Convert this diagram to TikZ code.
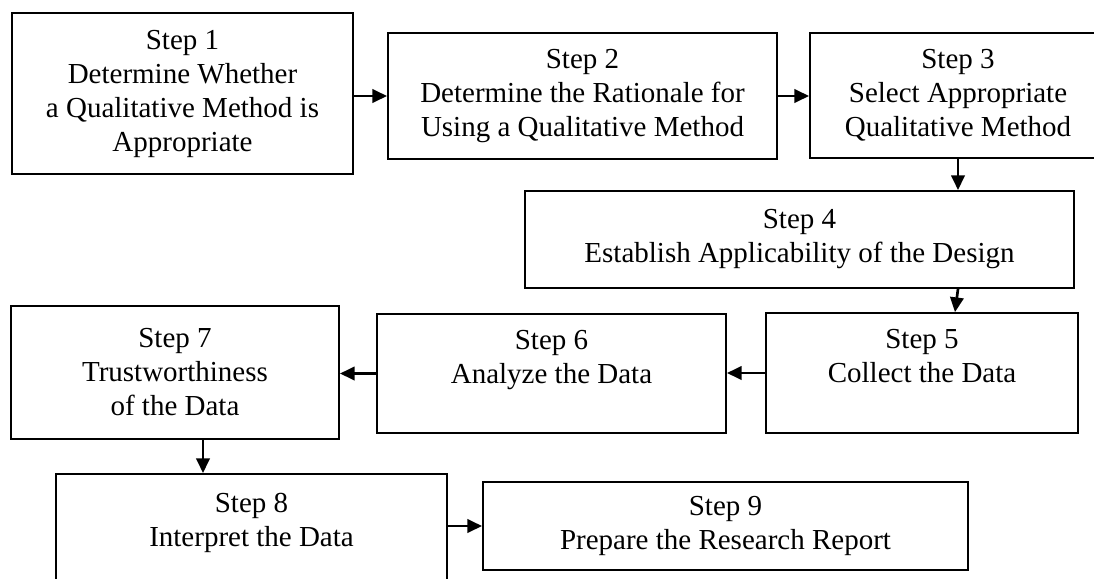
\documentclass[tikz,border=0pt]{standalone}
\usepackage{fontspec}
\setmainfont{Liberation Serif}
\usepackage{tikz}
\usetikzlibrary{arrows,arrows.meta,positioning}
\tikzstyle{stepbox} = [draw=black, line width=1.4pt, rectangle, inner sep=0pt, align=center, font=\fontsize{21.75}{25.5}\selectfont]
\tikzstyle{arrow} = [line width=2pt, -{Triangle[length=11pt, width=10pt]}]

\begin{document}
\begin{tikzpicture}[x=0.75pt, y=-0.75pt]
		\useasboundingbox (0,0) rectangle (1094,578);
		\coordinate (s1) at (182.5,93.5);
		\coordinate (s2) at (582.5,96);
		\coordinate (s3) at (958,95.5);
		\coordinate (s4) at (799.5,239.5);
		\coordinate (s5) at (922,373);
		\coordinate (s6) at (551.5,373.5);
		\coordinate (s7) at (175,372.5);
		\coordinate (s8) at (251.5,537);
		\coordinate (s9) at (725.5,526);
		% First row
		\begin{scope}[every node/.style={stepbox}]
		\node[name=step1, minimum width=255.75pt, minimum height=120.75pt] at (s1) {Step 1\\Determine Whether\\a Qualitative Method is\\Appropriate};
		\node[name=step2, minimum width=291.75pt, minimum height=94.5pt] at (s2) {Step 2\\Determine the Rationale for\\Using a Qualitative Method};
		\node[name=step3, minimum width=222pt, minimum height=93.75pt] at (s3) {Step 3\\Select Appropriate\\Qualitative Method};
		\end{scope}
		% Middle rows
		\begin{scope}[every node/.style={stepbox}]
		\node[name=step4, minimum width=411.75pt, minimum height=72.75pt] at (s4) {Step 4\\Establish Applicability of the Design};
		\node[name=step5, minimum width=234pt, minimum height=90pt] at (s5) {Step 5\\Collect the Data\\~};
		\node[name=step6, minimum width=261.75pt, minimum height=89.25pt] at (s6) {Step 6\\Analyze the Data\\~};
		\node[name=step7, minimum width=246pt, minimum height=99.75pt] at (s7) {Step 7\\Trustworthiness\\of the Data};
		\end{scope}
		% Last row
		\begin{scope}[every node/.style={stepbox}]
		\node[name=step8, minimum width=293.25pt, minimum height=94.5pt] at (s8) {Step 8\\Interpret the Data\\~};
		\node[name=step9, minimum width=363.75pt, minimum height=66pt] at (s9) {Step 9\\Prepare the Research Report};
		\end{scope}
		\draw [arrow] (step1.east |- step2.west)--(step2.west);
		\draw [arrow] (step2.east)--(step2.east -| step3.west);
		\draw [arrow] (step3.south)--(step3.south |- step4.north);
		\draw [arrow] (step4.south -| step3.south)--([xshift=-2.25pt]step5.north -| step3.south);
		\draw [arrow] (step5.west)--(step5.west -| step6.east);
		\draw [arrow] (step6.west)--(step6.west -| step7.east);
		\draw [arrow] ([xshift=21pt]step7.south)--([xshift=21pt]step7.south |- step8.north);
		\draw [arrow] (step8.east |- step9.west)--(step9.west);
\end{tikzpicture}
\end{document}
